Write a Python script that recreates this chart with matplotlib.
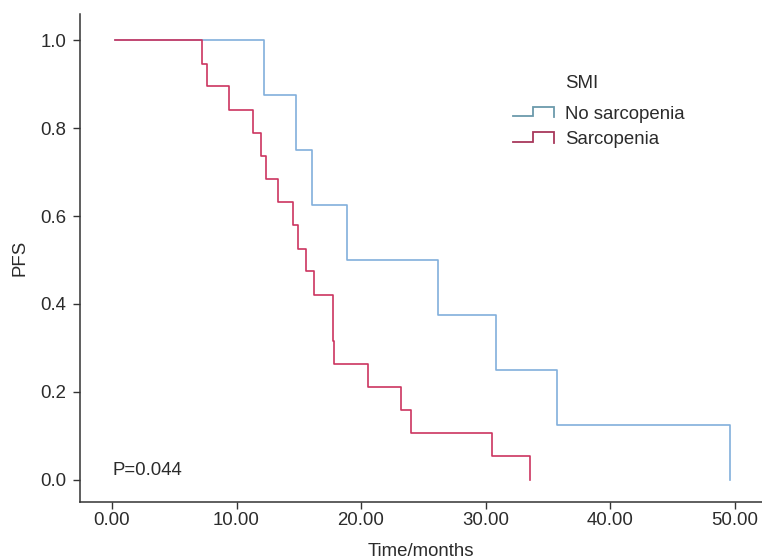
import matplotlib
matplotlib.use("Agg")
import matplotlib.pyplot as plt
from matplotlib.legend_handler import HandlerBase
from matplotlib.lines import Line2D

plt.rcParams['font.family'] = ['Liberation Sans', 'DejaVu Sans']
plt.rcParams['font.size'] = 13.4

# Kaplan-Meier steps
ns_time = [0.25, 12.2, 14.8, 16.1, 18.85, 26.2, 30.8, 35.7, 49.6]
ns_pfs = [1.0, 0.875, 0.75, 0.625, 0.5, 0.375, 0.25, 0.125, 0.0]

sarc_time = [0.25, 7.2, 7.6, 9.4, 11.35, 12.0, 12.35, 13.3, 14.55, 14.95,
             15.6, 16.2, 17.75, 17.85, 20.55, 23.2, 24.0, 30.5, 33.6]
sarc_pfs = [1.0, 0.947, 0.895, 0.842, 0.789, 0.737, 0.684, 0.632, 0.579, 0.526,
            0.474, 0.421, 0.316, 0.263, 0.211, 0.158, 0.105, 0.053, 0.0]

group_names = ['No sarcopenia', 'Sarcopenia']
xticks = [0, 10, 20, 30, 40, 50]
yticks = [0.0, 0.2, 0.4, 0.6, 0.8, 1.0]

c_ns, c_sarc = '#82afdc', '#cc3560'
c_ns_leg, c_sarc_leg = '#6b9aab', '#a8385c'
txt = '#2b2b2b'


class StepHandler(HandlerBase):
    # small step-shaped legend key like the SPSS output
    def create_artists(self, legend, orig_handle, xdescent, ydescent,
                       width, height, fontsize, trans):
        x0 = -xdescent
        y0 = -ydescent + height * 0.2
        h = height * 0.75
        xs = [x0, x0 + 0.48 * width, x0 + 0.48 * width, x0 + width, x0 + width]
        ys = [y0, y0, y0 + h, y0 + h, y0 - 0.1 * h]
        ln = Line2D(xs, ys, color=orig_handle.get_color(), lw=1.3,
                    solid_joinstyle='miter', transform=trans)
        return [ln]


fig = plt.figure(figsize=(7.62, 5.6), dpi=100)
ax = fig.add_axes([80/762, 1-502/560, 1-80/762, (502-14)/560])

ax.step(ns_time, ns_pfs, where='post', color=c_ns, lw=1.2)
ax.step(sarc_time, sarc_pfs, where='post', color=c_sarc, lw=1.2)

ax.set_xlim(-2.57, 52.2)
ax.set_ylim(-0.051, 1.06)
ax.set_xticks(xticks)
ax.set_xticklabels([f'{v:.2f}' for v in xticks])
ax.set_yticks(yticks)
ax.set_yticklabels([f'{v:.1f}' for v in yticks])

for s in ['top', 'right']:
    ax.spines[s].set_visible(False)
for s in ['left', 'bottom']:
    ax.spines[s].set_color('#333333')
    ax.spines[s].set_linewidth(1.1)
ax.tick_params(axis='x', length=5, width=1, color='#333333', pad=2, labelcolor=txt)
ax.tick_params(axis='y', length=5, width=1, color='#333333', pad=5, labelcolor=txt)

ax.set_xlabel('Time/months', color=txt, labelpad=10)
ax.set_ylabel('PFS', color=txt, labelpad=8)

ax.text(0, 0.02, 'P=0.044', color=txt, ha='left', va='center')

handles = [Line2D([], [], color=c_ns_leg), Line2D([], [], color=c_sarc_leg)]
fig.legend(handles, group_names, handler_map={Line2D: StepHandler()},
           loc='upper left', bbox_to_anchor=(513/762, 1-106/560),
           frameon=False, borderpad=0, borderaxespad=0, handlelength=2.2,
           handletextpad=0.6, labelspacing=0.45, labelcolor=txt)
fig.text(565/762, 1-83/560, 'SMI', color=txt, ha='left', va='center')

fig.savefig('out.png', dpi=100)
